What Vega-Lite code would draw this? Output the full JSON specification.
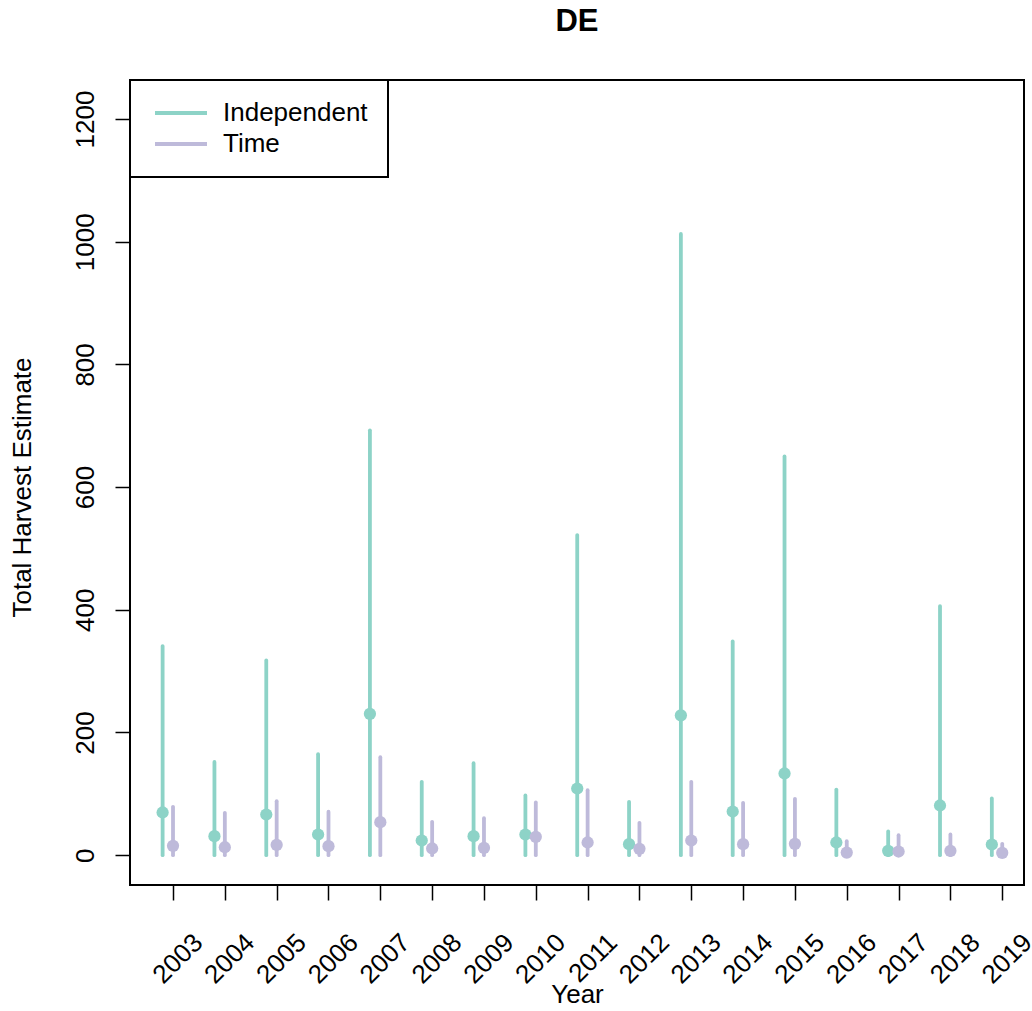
{
  "$schema": "https://vega.github.io/schema/vega-lite/v6.json",
  "width": 894,
  "height": 805,
  "autosize": "none",
  "padding": {"left": 130, "top": 80, "right": 8, "bottom": 126},
  "background": "white",
  "title": {"text": "DE", "anchor": "middle", "fontSize": 31, "fontWeight": "bold", "font": "Liberation Sans", "color": "black", "baseline": "alphabetic", "offset": 17},
  "datasets": {
    "indep": [
      {"year": 2003, "method": "Independent", "est": 69.6, "lower": 0, "upper": 340.8},
      {"year": 2004, "method": "Independent", "est": 31, "lower": 0, "upper": 152},
      {"year": 2005, "method": "Independent", "est": 66.3, "lower": 0, "upper": 317.4},
      {"year": 2006, "method": "Independent", "est": 33.7, "lower": 0, "upper": 164.7},
      {"year": 2007, "method": "Independent", "est": 230.4, "lower": 0, "upper": 692.5},
      {"year": 2008, "method": "Independent", "est": 23.9, "lower": 0, "upper": 119.6},
      {"year": 2009, "method": "Independent", "est": 31, "lower": 0, "upper": 150},
      {"year": 2010, "method": "Independent", "est": 33.7, "lower": 0, "upper": 97.3},
      {"year": 2011, "method": "Independent", "est": 108.7, "lower": 0, "upper": 521.8},
      {"year": 2012, "method": "Independent", "est": 17.9, "lower": 0, "upper": 87},
      {"year": 2013, "method": "Independent", "est": 228, "lower": 0, "upper": 1012.6},
      {"year": 2014, "method": "Independent", "est": 71.2, "lower": 0, "upper": 348.4},
      {"year": 2015, "method": "Independent", "est": 133.2, "lower": 0, "upper": 650},
      {"year": 2016, "method": "Independent", "est": 20.7, "lower": 0, "upper": 107},
      {"year": 2017, "method": "Independent", "est": 7.1, "lower": 0, "upper": 38.6},
      {"year": 2018, "method": "Independent", "est": 81, "lower": 0, "upper": 406},
      {"year": 2019, "method": "Independent", "est": 17.4, "lower": 0, "upper": 92.4}
    ],
    "time": [
      {"year": 2003, "method": "Time", "est": 15.2, "lower": 0, "upper": 78.8},
      {"year": 2004, "method": "Time", "est": 13, "lower": 0, "upper": 69},
      {"year": 2005, "method": "Time", "est": 16.9, "lower": 0, "upper": 88},
      {"year": 2006, "method": "Time", "est": 14.7, "lower": 0, "upper": 71},
      {"year": 2007, "method": "Time", "est": 53.8, "lower": 0, "upper": 159.8},
      {"year": 2008, "method": "Time", "est": 10.9, "lower": 0, "upper": 54.3},
      {"year": 2009, "method": "Time", "est": 12, "lower": 0, "upper": 60.3},
      {"year": 2010, "method": "Time", "est": 29.9, "lower": 0, "upper": 85.9},
      {"year": 2011, "method": "Time", "est": 20.7, "lower": 0, "upper": 106},
      {"year": 2012, "method": "Time", "est": 10.3, "lower": 0, "upper": 52.7},
      {"year": 2013, "method": "Time", "est": 23.9, "lower": 0, "upper": 119.6},
      {"year": 2014, "method": "Time", "est": 17.9, "lower": 0, "upper": 85.3},
      {"year": 2015, "method": "Time", "est": 18.5, "lower": 0, "upper": 91.9},
      {"year": 2016, "method": "Time", "est": 4.3, "lower": 0, "upper": 22.8},
      {"year": 2017, "method": "Time", "est": 6, "lower": 0, "upper": 32.6},
      {"year": 2018, "method": "Time", "est": 7.1, "lower": 0, "upper": 33.7},
      {"year": 2019, "method": "Time", "est": 3.8, "lower": 0, "upper": 18.5}
    ]
  },
  "encoding": {
    "x": {
      "field": "year", "type": "quantitative",
      "scale": {"domain": [2002.17, 2019.42], "nice": false, "zero": false},
      "axis": {
        "title": "Year", "values": [2003,2004,2005,2006,2007,2008,2009,2010,2011,2012,2013,2014,2015,2016,2017,2018,2019],
        "format": "d", "labelAngle": -45, "labelAlign": "right", "labelBaseline": "middle",
        "labelPadding": 38, "labelOffset": 25, "labelOverlap": false, "labelFlush": false,
        "titleY": 117, "titleBaseline": "alphabetic", "titleAnchor": "middle"
      }
    },
    "y": {
      "field": "lower", "type": "quantitative",
      "scale": {"domain": [-48.6, 1263.6], "nice": false, "zero": false},
      "axis": {
        "title": "Total Harvest Estimate", "values": [0,200,400,600,800,1000,1200], "format": "d",
        "labelAngle": -90, "labelAlign": "center", "labelBaseline": "alphabetic", "labelPadding": 22,
        "titleAngle": -90, "titleX": -100, "titleY": 407, "titleAlign": "center", "titleBaseline": "alphabetic"
      }
    }
  },
  "layer": [
    {
      "data": {"name": "indep"},
      "mark": {"type": "rule", "strokeWidth": 3.8, "strokeCap": "round", "xOffset": -10.4},
      "encoding": {
        "y2": {"field": "upper"},
        "color": {"field": "method", "type": "nominal",
          "scale": {"domain": ["Independent", "Time"], "range": ["#8DD3C7", "#BEBADA"]},
          "legend": {"title": null, "orient": "none", "legendX": 0, "legendY": 0, "symbolType": "M-0.8,0H4.4", "symbolSize": 400, "symbolStrokeWidth": 3.8}}
      }
    },
    {
      "data": {"name": "indep"},
      "mark": {"type": "point", "filled": true, "opacity": 1, "size": 150, "shape": "circle", "color": "#8DD3C7", "xOffset": -10.4},
      "encoding": {"y": {"field": "est", "type": "quantitative"}}
    },
    {
      "data": {"name": "time"},
      "mark": {"type": "rule", "strokeWidth": 3.8, "strokeCap": "round"},
      "encoding": {
        "y2": {"field": "upper"},
        "color": {"field": "method", "type": "nominal"}
      }
    },
    {
      "data": {"name": "time"},
      "mark": {"type": "point", "filled": true, "opacity": 1, "size": 150, "shape": "circle", "color": "#BEBADA"},
      "encoding": {"y": {"field": "est", "type": "quantitative"}}
    }
  ],
  "config": {
    "view": {"stroke": "black", "strokeWidth": 2},
    "font": "Liberation Sans",
    "axis": {
      "grid": false, "domain": false, "tickColor": "black", "tickWidth": 1.5, "tickSize": 15,
      "labelFont": "Liberation Sans", "labelFontSize": 26, "labelColor": "black",
      "titleFont": "Liberation Sans", "titleFontSize": 26, "titleFontWeight": "normal", "titleColor": "black"
    },
    "legend": {
      "strokeColor": "black", "strokeWidth": 2, "fillColor": "white", "padding": 20,
      "labelFont": "Liberation Sans", "labelFontSize": 26, "labelColor": "black",
      "labelOffset": 47, "rowPadding": 5
    }
  }
}
